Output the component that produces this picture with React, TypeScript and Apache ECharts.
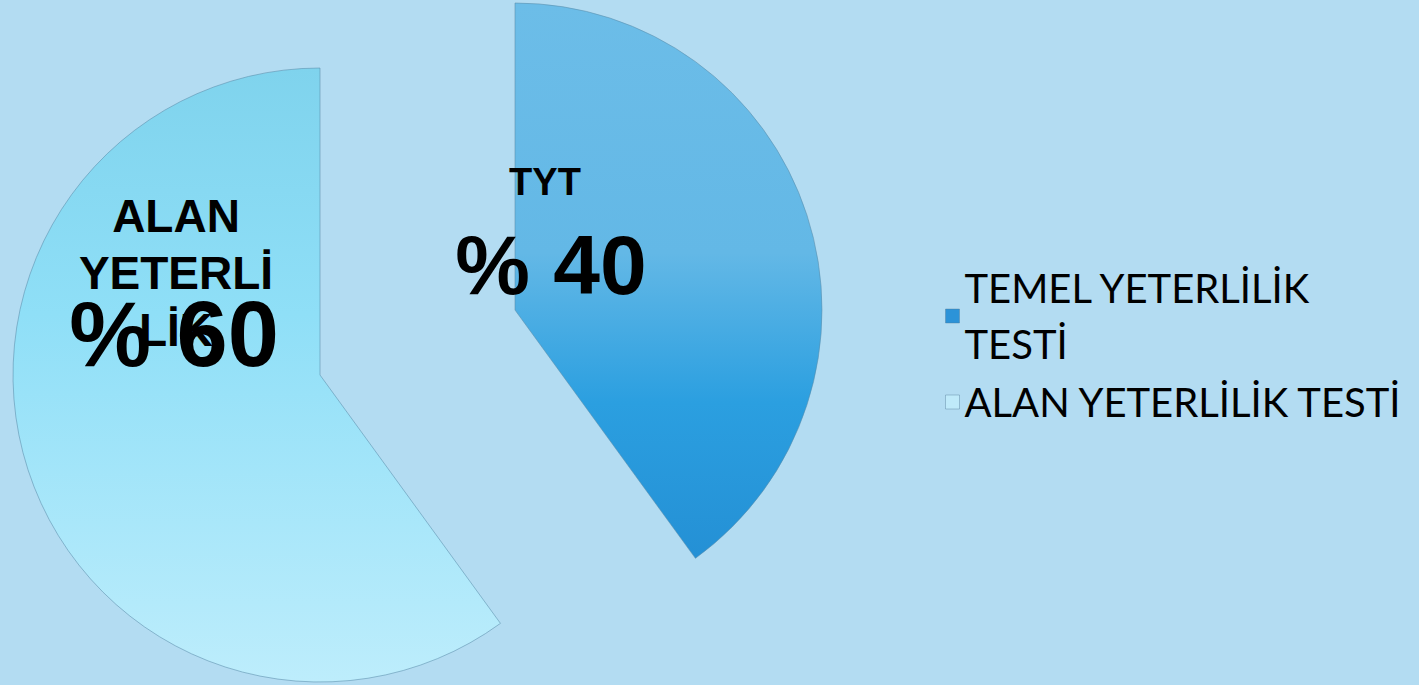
import React, { useEffect, useRef } from "react";
import * as echarts from "echarts";

const categories = ["TEMEL YETERLİLİK TESTİ", "ALAN YETERLİLİK TESTİ"];
const legendLabels = ["TEMEL YETERLİLİK\nTESTİ", "ALAN YETERLİLİK TESTİ"];
const sliceLabels = ["TYT", "ALAN\nYETERLİ\nLİK"];
const values = [40, 60];

const centers: [number, number][] = [
  [515, 310],
  [320, 375],
];
const nameLabelPos = [
  { x: 545, y: 182, size: 38, lh: 57 },
  { x: 176, y: 273, size: 46, lh: 57 },
];
const pctLabelPos = [
  { x: 551, y: 265, size: 84 },
  { x: 174, y: 334, size: 92 },
];
const gradients = [
  [
    { offset: 0, color: "#6cbde8" },
    { offset: 0.45, color: "#63b8e6" },
    { offset: 0.72, color: "#2b9fe0" },
    { offset: 1, color: "#2490d5" },
  ],
  [
    { offset: 0, color: "#7fd3ed" },
    { offset: 0.4, color: "#8fdff7" },
    { offset: 1, color: "#bdedfc" },
  ],
];
const legendColors = ["#2c93d8", "#bfeafa"];

export default function App() {
  const ref = useRef<HTMLDivElement>(null);
  useEffect(() => {
    if (!ref.current) return;
    const chart = echarts.init(ref.current, undefined, { renderer: "svg" });
    const series: any[] = [];
    values.forEach((_, i) => {
      series.push({
        type: "pie",
        silent: true,
        center: centers[i],
        radius: 307,
        startAngle: 90,
        avoidLabelOverlap: false,
        labelLine: { show: false },
        emphasis: { disabled: true },
        labelLayout: {
          x: nameLabelPos[i].x,
          y: nameLabelPos[i].y,
          align: "center",
          verticalAlign: "middle",
          hideOverlap: false,
          moveOverlap: false,
        },
        data: values.map((v, j) =>
          j === i
            ? {
                value: v,
                name: categories[j],
                itemStyle: {
                  color: {
                    type: "linear",
                    x: 0,
                    y: 0,
                    x2: 0,
                    y2: 1,
                    colorStops: gradients[j],
                  },
                  borderColor: "rgba(90,140,170,0.55)",
                  borderWidth: 1,
                },
                label: {
                  show: true,
                  position: "inside",
                  formatter: sliceLabels[j],
                  color: "#000",
                  fontFamily: "Liberation Sans, Arial, sans-serif",
                  fontWeight: "bold",
                  fontSize: nameLabelPos[i].size,
                  lineHeight: nameLabelPos[i].lh,
                  align: "center",
                },
              }
            : {
                value: v,
                name: "_gap" + i + j,
                itemStyle: { color: "rgba(0,0,0,0)", borderWidth: 0 },
                label: { show: false },
              }
        ),
      });
    });
    values.forEach((_, i) => {
      series.push({
        type: "pie",
        silent: true,
        center: centers[i],
        radius: 307,
        startAngle: 90,
        avoidLabelOverlap: false,
        labelLine: { show: false },
        emphasis: { disabled: true },
        z: 5,
        labelLayout: {
          x: pctLabelPos[i].x,
          y: pctLabelPos[i].y,
          align: "center",
          verticalAlign: "middle",
          hideOverlap: false,
          moveOverlap: false,
        },
        data: values.map((v, j) => ({
          value: v,
          name: "_pct" + i + j,
          itemStyle: { color: "rgba(0,0,0,0)", borderWidth: 0 },
          label:
            j === i
              ? {
                  show: true,
                  position: "center",
                  formatter: "% {c}",
                  color: "#000",
                  fontFamily: "Liberation Sans, Arial, sans-serif",
                  fontWeight: "bold",
                  fontSize: pctLabelPos[i].size,
                }
              : { show: false },
        })),
      });
    });
    chart.setOption({
      animation: false,
      backgroundColor: "#b3dcf2",
      legend: {
        orient: "vertical",
        left: 940,
        top: 255,
        itemWidth: 14,
        itemHeight: 14,
        itemGap: 2,
        icon: "rect",
        selectedMode: false,
        data: categories.map((c, k) => ({
          name: c,
          itemStyle: { color: legendColors[k], borderColor: "rgba(80,120,150,0.4)", borderWidth: 1 },
        })),
        formatter: (name: string) => legendLabels[categories.indexOf(name)],
        textStyle: {
          fontFamily: "Lato, sans-serif",
          fontSize: 40,
          lineHeight: 56,
          color: "#000",
        },
      },
      series,
    });
    return () => chart.dispose();
  }, []);
  return (
    <div
      ref={ref}
      style={{ position: "absolute", left: 0, top: 0, width: 1419, height: 685 }}
    />
  );
}
